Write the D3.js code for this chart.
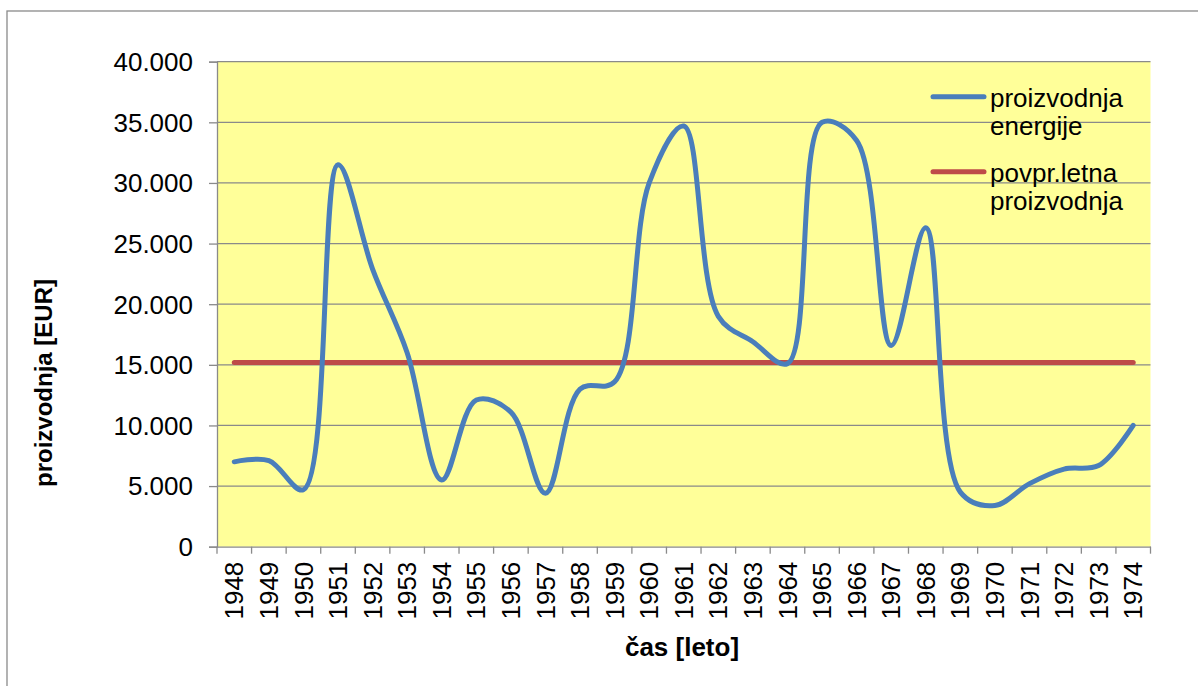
<!DOCTYPE html>
<html>
<head>
<meta charset="utf-8">
<script src="https://cdn.jsdelivr.net/npm/d3@7"></script>
<style>
  html, body { margin: 0; padding: 0; background: #ffffff; }
  svg { display: block; font-family: "Liberation Sans", Arial, sans-serif; }
</style>
</head>
<body>
<svg id="chart" width="1198" height="686"></svg>
<script>
// ---- data ----
const years = ["1948","1949","1950","1951","1952","1953","1954","1955","1956","1957","1958","1959","1960","1961","1962","1963","1964","1965","1966","1967","1968","1969","1970","1971","1972","1973","1974"];
const production = [7000, 7100, 4700, 31500, 22900, 16000, 5500, 12100, 11100, 4400, 13000, 13600, 30000, 34700, 19000, 16900, 15100, 35000, 33500, 16600, 26300, 4500, 3400, 5200, 6400, 6700, 10000];
const average = [15200, 15200, 15200, 15200, 15200, 15200, 15200, 15200, 15200, 15200, 15200, 15200, 15200, 15200, 15200, 15200, 15200, 15200, 15200, 15200, 15200, 15200, 15200, 15200, 15200, 15200, 15200];
const yTicks = [0, 5000, 10000, 15000, 20000, 25000, 30000, 35000, 40000];
const yTickLabels = ["0", "5.000", "10.000", "15.000", "20.000", "25.000", "30.000", "35.000", "40.000"];
const seriesNames = [["proizvodnja", "energije"], ["povpr.letna", "proizvodnja"]];
const xTitle = "čas [leto]";
const yTitle = "proizvodnja [EUR]";

// ---- layout ----
const plot = { left: 217, right: 1150.5, top: 61.7, bottom: 546.7 };
const colors = { prod: "#4a7ebb", avg: "#be4b48", grid: "#8a8a8a", bg: "#ffff99" };

const svg = d3.select("#chart");

// outer chart border
svg.append("rect").attr("x", 7).attr("y", 11).attr("width", 1300).attr("height", 800)
  .attr("fill", "#fff").attr("stroke", "#8a8a8a").attr("stroke-width", 1.3);

const x = d3.scaleBand().domain(years).range([plot.left, plot.right]).padding(0);
const y = d3.scaleLinear().domain([0, 40000]).range([plot.bottom, plot.top]);
const cx = d => x(d) + x.bandwidth() / 2;

// plot background
svg.append("rect").attr("x", plot.left).attr("y", plot.top)
  .attr("width", plot.right - plot.left).attr("height", plot.bottom - plot.top)
  .attr("fill", colors.bg);

// gridlines
svg.append("g").selectAll("line").data(yTicks.filter(v => v > 0)).join("line")
  .attr("x1", plot.left).attr("x2", plot.right)
  .attr("y1", d => y(d)).attr("y2", d => y(d))
  .attr("stroke", colors.grid).attr("stroke-width", 1.3);

// y axis
const yAxis = d3.axisLeft(y).tickValues(yTicks).tickSize(8).tickPadding(16)
  .tickFormat((d, i) => yTickLabels[i]);
const gy = svg.append("g").attr("transform", `translate(${plot.left},0)`).call(yAxis);
gy.select(".domain").attr("stroke", colors.grid).attr("stroke-width", 1.3);
gy.selectAll(".tick line").attr("stroke", colors.grid).attr("stroke-width", 1.3);
gy.selectAll(".tick text").attr("font-size", 26).attr("fill", "#000")
  .attr("font-family", "Liberation Sans, Arial, sans-serif").attr("dy", "0.34em");

// x axis
const xAxis = d3.axisBottom(x).tickSize(0).tickSizeOuter(0);
const gx = svg.append("g").attr("transform", `translate(0,${plot.bottom})`).call(xAxis);
gx.select(".domain").attr("stroke", colors.grid).attr("stroke-width", 1.3);
gx.selectAll(".tick line").remove();
gx.selectAll(".tick text")
  .attr("font-size", 26).attr("fill", "#000")
  .attr("font-family", "Liberation Sans, Arial, sans-serif")
  .attr("text-anchor", "end")
  .attr("transform", "translate(0,15) rotate(-90)")
  .attr("x", 0).attr("y", 0).attr("dy", "0.35em");
// boundary ticks between categories
const bounds = years.map(d => x(d)).concat([plot.right]);
svg.append("g").selectAll("line").data(bounds).join("line")
  .attr("x1", d => d).attr("x2", d => d)
  .attr("y1", plot.bottom).attr("y2", plot.bottom + 7)
  .attr("stroke", colors.grid).attr("stroke-width", 1.3);

// lines
const lineGen = d3.line().x((d, i) => cx(years[i])).y(d => y(d));
svg.append("path").datum(average)
  .attr("d", lineGen.curve(d3.curveLinear))
  .attr("fill", "none").attr("stroke", colors.avg).attr("stroke-width", 5)
  .attr("stroke-linecap", "round");
svg.append("path").datum(production)
  .attr("d", d3.line().x((d, i) => cx(years[i])).y(d => y(d)).curve(d3.curveCatmullRom.alpha(0.5)))
  .attr("fill", "none").attr("stroke", colors.prod).attr("stroke-width", 5)
  .attr("stroke-linecap", "round").attr("stroke-linejoin", "round");

// legend
const legend = svg.append("g");
const legendColors = [colors.prod, colors.avg];
const legendY = [96.7, 171.7];
seriesNames.forEach((names, i) => {
  legend.append("line").attr("x1", 933).attr("x2", 984)
    .attr("y1", legendY[i]).attr("y2", legendY[i])
    .attr("stroke", legendColors[i]).attr("stroke-width", 5).attr("stroke-linecap", "round");
  const t = legend.append("text").attr("x", 990).attr("y", legendY[i] + 10)
    .attr("font-size", 26).attr("fill", "#000");
  names.forEach((n, j) => {
    t.append("tspan").attr("x", 990).attr("dy", j === 0 ? 0 : 28.4).text(n);
  });
});

// axis titles
svg.append("text").attr("x", 682).attr("y", 656)
  .attr("text-anchor", "middle").attr("font-size", 26).attr("font-weight", "bold")
  .attr("fill", "#000").text(xTitle);
svg.append("text").attr("transform", "translate(52,383) rotate(-90)")
  .attr("text-anchor", "middle").attr("font-size", 24).attr("font-weight", "bold")
  .attr("fill", "#000").text(yTitle);
</script>
</body>
</html>
